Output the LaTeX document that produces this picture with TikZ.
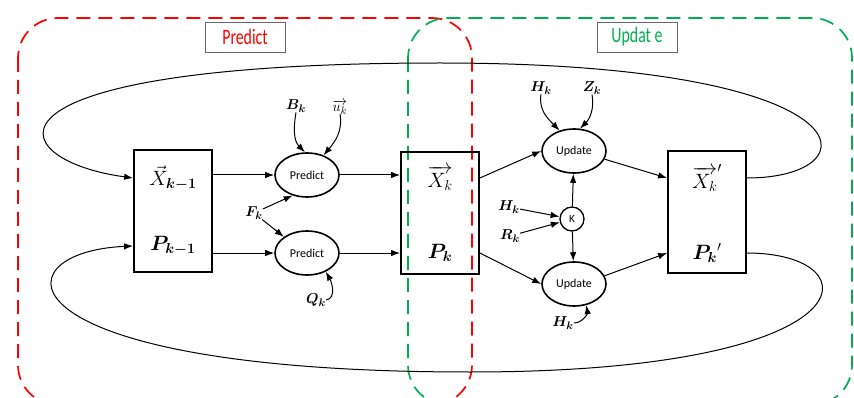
\documentclass[tikz,border=0pt]{standalone}
\usepackage{amsmath,bm}
\usepackage{fontspec}
\setsansfont{Carlito}
\usetikzlibrary{shapes.geometric,arrows.meta}
\definecolor{predred}{RGB}{255,0,0}
\definecolor{updgreen}{RGB}{0,176,80}

\begin{document}
\begin{tikzpicture}[x=1pt,y=-1pt,
    statebox/.style={draw=black,line width=1.8pt,minimum width=78pt,minimum height=122pt,inner sep=0pt},
    stepnode/.style={draw=black,line width=1.6pt,ellipse,minimum width=64pt,minimum height=44pt,inner sep=0pt,font=\sffamily\fontsize{12}{13}\selectfont},
    flow/.style={draw=black,line width=1pt,-{Latex[length=9pt,width=6.5pt]}},
    sym/.style={font=\fontsize{15}{16}\selectfont,inner sep=0pt},
    big/.style={font=\fontsize{21}{22}\selectfont,inner sep=0pt},
    tag/.style={draw=gray!80!black,line width=0.6pt,minimum width=80pt,minimum height=30pt,font=\sffamily\fontsize{22}{23}\selectfont},
    region/.style={line width=1.7pt,rounded corners=40pt,dash pattern=on 14pt off 8pt}]
            \useasboundingbox (0,0) rectangle (854,398);
            \draw[region,draw=predred] (18,18) rectangle (472,405);
            \draw[region,draw=updgreen] (408,18) rectangle (852,405);
            \node[tag,text=predred] (ptag) at (245,37) {\scalebox{0.72}[1]{Predict}};
            \node[tag,text=updgreen] (utag) at (637,37) {\scalebox{0.72}[1]{Updat e}};
            \node[statebox] (prev) at (173,211) {};
            \node[big] (xprev) at (173,178) {$\vec{X}_{\bm{k-1}}$};
            \node[big] (pprev) at (173,246) {$\bm{P_{k-1}}$};
            \node[statebox] (cur) at (440,213) {};
            \node[big] (xcur) at (440,178) {$\overrightarrow{X_k}$};
            \node[big] (pcur) at (440,253) {$\bm{P_k}$};
            \node[statebox] (post) at (707,212) {};
            \node[big] (xpost) at (707,178) {${\overrightarrow{X_k}}'$};
            \node[big] (ppost) at (707,253) {${\bm{P_k}}'$};
            \node[stepnode] (predx) at (307,175) {Predict};
            \node[stepnode] (predp) at (307,253) {Predict};
            \node[stepnode] (updx) at (574,151) {Update};
            \node[stepnode] (updp) at (574,284) {Update};
            \node[draw=black,line width=1.3pt,circle,minimum size=24pt,inner sep=0pt,font=\sffamily\fontsize{11}{12}\selectfont] (gain) at (572,219) {K};
            \node[sym] (bk) at (296,106) {$\bm{B_k}$};
            \node[sym] (uk) at (340,107) {$\overrightarrow{u_k}$};
            \node[sym] (fk) at (254,213) {$\bm{F_k}$};
            \node[sym] (qk) at (316,300) {$\bm{Q_k}$};
            \node[sym] (hku) at (541,88) {$\bm{H_k}$};
            \node[sym] (zk) at (592,88) {$\bm{Z_k}$};
            \node[sym] (hkg) at (509,207) {$\bm{H_k}$};
            \node[sym] (rk) at (510,236) {$\bm{R_k}$};
            \node[sym] (hkl) at (563,323) {$\bm{H_k}$};
            \draw[flow] (prev.east |- predx.west) -- (predx.west);
            \draw[flow] (prev.east |- predp.west) -- (predp.west);
            \draw[flow] (predx.east) -- (cur.west |- predx.east);
            \draw[flow] (predp.east) -- (cur.west |- predp.east);
            \draw[flow] (cur.east |- xcur) -- (updx.west);
            \draw[flow] (cur.east |- pcur) -- (updp.west);
            \draw[flow] (updx.-15) -- (post.west |- xpost);
            \draw[flow] (updp.15) -- (post.west |- ppost);
            \draw[flow] (gain) -- (updx);
            \draw[flow] (gain) -- (updp);
            \draw[flow] (hkg) -- (gain);
            \draw[flow] (rk) -- (gain);
            \draw[flow] (fk) -- (predx.235);
            \draw[flow] (fk) -- (predp.145);
            \draw[flow] (bk.south) to[out=-100,in=135] (predx.95);
            \draw[flow] (uk.south) to[out=-80,in=50] (predx.50);
            \draw[flow] (qk.east) to[out=10,in=-60] (predp.-45);
            \draw[flow] (hku.south) to[out=-100,in=135] (updx.125);
            \draw[flow] (zk.south) to[out=-80,in=45] (updx.75);
            \draw[flow] (hkl.east) to[out=0,in=-80] (updp.-60);
            \draw[flow] (post.east |- xpost) .. controls (875,178) and (875,63) .. (440,63) .. controls (-40,63) and (0,160) .. (prev.west |- xprev);
            \draw[flow] (post.east |- ppost) .. controls (875,253) and (875,372) .. (470,372) .. controls (-5,372) and (-5,252) .. (prev.west |- pprev);
        \end{tikzpicture}
\end{document}
